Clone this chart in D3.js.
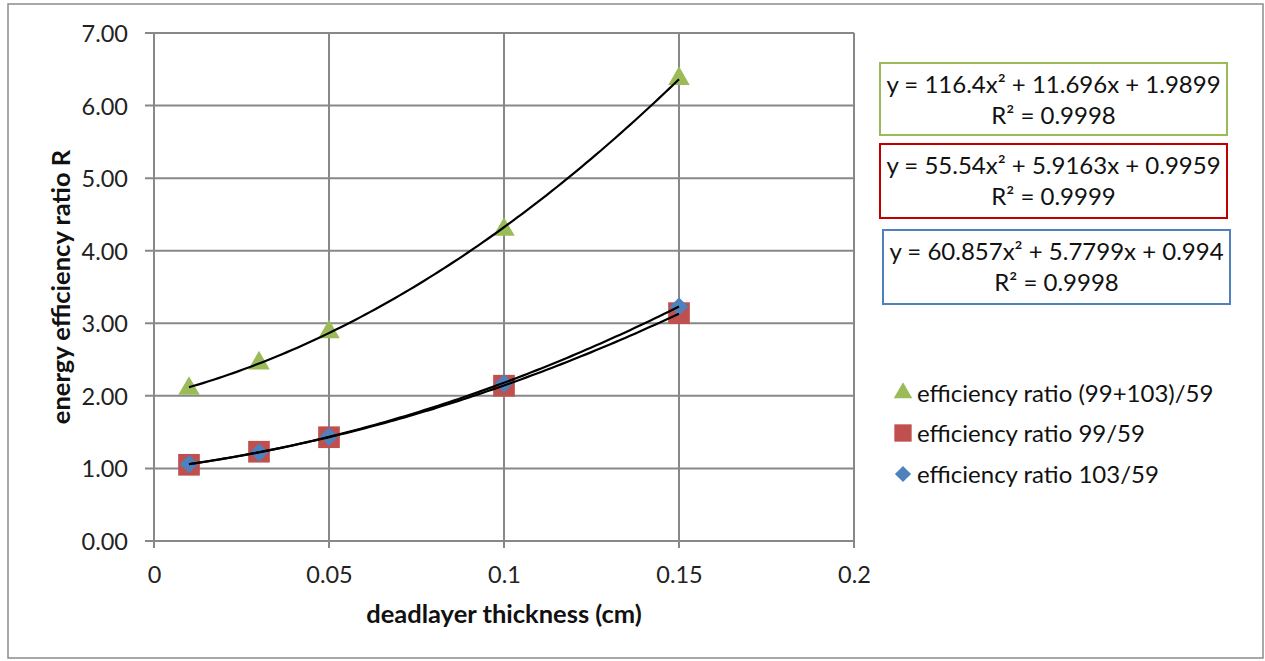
<!DOCTYPE html>
<html>
<head>
<meta charset="utf-8">
<script src="https://cdn.jsdelivr.net/npm/d3@7"></script>
<style>
  html, body { margin: 0; padding: 0; background: #fff; }
  svg text { font-family: Lato, "Open Sans", sans-serif; }
</style>
</head>
<body>
<svg id="chart" width="1265" height="661"></svg>
<script>
// Dead-layer thickness (cm) and measured efficiency ratios
const thickness = [0.01, 0.03, 0.05, 0.10, 0.15];
const ratioSum = [2.10, 2.45, 2.88, 4.29, 6.37];   // (99+103)/59
const ratio99 = [1.05, 1.23, 1.43, 2.14, 3.14];    // 99/59
const ratio103 = [1.06, 1.22, 1.44, 2.17, 3.23];   // 103/59

// Quadratic trendline coefficients [a, b, c] for y = a x^2 + b x + c
const fitSum = [116.4, 11.696, 1.9899];
const fit99 = [55.54, 5.9163, 0.9959];
const fit103 = [60.857, 5.7799, 0.994];
const fitLabels = [
  { eq: "y = 116.4x² + 11.696x + 1.9899", r2: "R² = 0.9998" },
  { eq: "y = 55.54x² + 5.9163x + 0.9959", r2: "R² = 0.9999" },
  { eq: "y = 60.857x² + 5.7799x + 0.994", r2: "R² = 0.9998" }
];
const seriesNames = ["efficiency ratio (99+103)/59", "efficiency ratio 99/59", "efficiency ratio 103/59"];
const xTicks = [0, 0.05, 0.1, 0.15, 0.2];
const yTicks = [0, 1, 2, 3, 4, 5, 6, 7];

const colors = { green: "#9BBB59", red: "#C0504D", blue: "#4F81BD" };
const FONT = "Lato, 'Open Sans', sans-serif";

const svg = d3.select("#chart");

// outer chart frame
svg.append("rect").attr("x", 8).attr("y", 4).attr("width", 1255).attr("height", 654)
  .attr("fill", "#fff").attr("stroke", "#8c8c8c").attr("stroke-width", 1.5);

const x = d3.scaleLinear().domain([0, 0.2]).range([154, 854]);
const y = d3.scaleLinear().domain([0, 7]).range([541, 33]);

// gridlines
const grid = svg.append("g").attr("stroke", "#888").attr("stroke-width", 2);
grid.selectAll("line.h").data(yTicks).join("line")
  .attr("x1", x(0) - 9).attr("x2", x(0.2)).attr("y1", d => y(d)).attr("y2", d => y(d));
grid.selectAll("line.v").data(xTicks).join("line")
  .attr("x1", d => x(d)).attr("x2", d => x(d)).attr("y1", y(7)).attr("y2", y(0) + 7);

// tick labels via axes
const yAxis = svg.append("g").attr("transform", `translate(${x(0)},0)`)
  .call(d3.axisLeft(y).tickValues(yTicks).tickFormat(d3.format(".2f")).tickSize(0).tickPadding(26));
const xAxis = svg.append("g").attr("transform", `translate(0,${y(0)})`)
  .call(d3.axisBottom(x).tickValues(xTicks).tickFormat(d => d === 0 ? "0" : String(+d.toFixed(2))).tickSize(0).tickPadding(0));
[yAxis, xAxis].forEach(a => {
  a.select(".domain").remove();
  a.attr("font-size", null).attr("font-family", null);
  a.selectAll("text").style("font-size", "23.5px").attr("fill", "#222")
    .style("font-family", FONT);
});
yAxis.selectAll("text").attr("dy", "0.36em");
xAxis.selectAll("text").attr("y", 42).attr("dy", null);

// axis titles
svg.append("text").attr("x", 504).attr("y", 623).attr("text-anchor", "middle")
  .style("font-size", "25.5px").attr("font-weight", "bold").attr("fill", "#111")
  .text("deadlayer thickness (cm)");
svg.append("text").attr("transform", "translate(70,287) rotate(-90)").attr("text-anchor", "middle")
  .style("font-size", "25.5px").attr("font-weight", "bold").attr("fill", "#111")
  .text("energy efficiency ratio R");

// trendlines
const poly = c => t => c[0] * t * t + c[1] * t + c[2];
const tSamples = d3.range(0, 101).map(i => 0.01 + (0.14 * i) / 100);
const line = d3.line().x(d => x(d[0])).y(d => y(d[1]));

// markers
const tri = d3.symbol().type(d3.symbolTriangle).size(200);
const sq = d3.symbol().type(d3.symbolSquare).size(470);
const dia = d3.symbol().type(d3.symbolSquare).size(170);

function drawSeries(vals, gen, fill, rot) {
  const g = svg.append("g");
  g.selectAll("path").data(thickness.map((t, i) => [t, vals[i]])).join("path")
    .attr("d", gen)
    .attr("transform", d => `translate(${x(d[0])},${y(d[1])}) rotate(${rot})`)
    .attr("fill", fill);
}
drawSeries(ratio99, sq, colors.red, 0);
drawSeries(ratio103, dia, colors.blue, 45);
drawSeries(ratioSum, tri, colors.green, 0);

// quadratic trendlines drawn over the markers
[fitSum, fit99, fit103].forEach(c => {
  const f = poly(c);
  svg.append("path").datum(tSamples.map(t => [t, f(t)]))
    .attr("d", line).attr("fill", "none").attr("stroke", "#000").attr("stroke-width", 2.2);
});

// equation boxes
const boxes = [
  { x: 880, y: 63, w: 347, h: 72, c: colors.green },
  { x: 880, y: 144, w: 347, h: 74, c: "#C00000" },
  { x: 883, y: 230, w: 347, h: 74, c: "#4F81BD" }
];
boxes.forEach((b, i) => {
  svg.append("rect").attr("x", b.x).attr("y", b.y).attr("width", b.w).attr("height", b.h)
    .attr("fill", "#fff").attr("stroke", b.c).attr("stroke-width", 2);
  const cx = b.x + b.w / 2;
  svg.append("text").attr("x", cx).attr("y", b.y + 30).attr("text-anchor", "middle")
    .style("font-size", "24px").attr("fill", "#111").text(fitLabels[i].eq);
  svg.append("text").attr("x", cx).attr("y", b.y + 61).attr("text-anchor", "middle")
    .style("font-size", "24px").attr("fill", "#111").text(fitLabels[i].r2);
});

// legend
const legendGens = [
  d3.symbol().type(d3.symbolTriangle).size(150),
  d3.symbol().type(d3.symbolSquare).size(300),
  d3.symbol().type(d3.symbolSquare).size(130)
];
const legendRot = [0, 0, 45];
const legendColors = [colors.green, colors.red, colors.blue];
const legendY = [393, 433, 474];
seriesNames.forEach((name, i) => {
  svg.append("path").attr("d", legendGens[i]())
    .attr("transform", `translate(903,${legendY[i]}) rotate(${legendRot[i]})`).attr("fill", legendColors[i]);
  svg.append("text").attr("x", 917).attr("y", legendY[i] + 9)
    .style("font-size", "24px").attr("fill", "#111").text(name);
});
</script>
</body>
</html>
